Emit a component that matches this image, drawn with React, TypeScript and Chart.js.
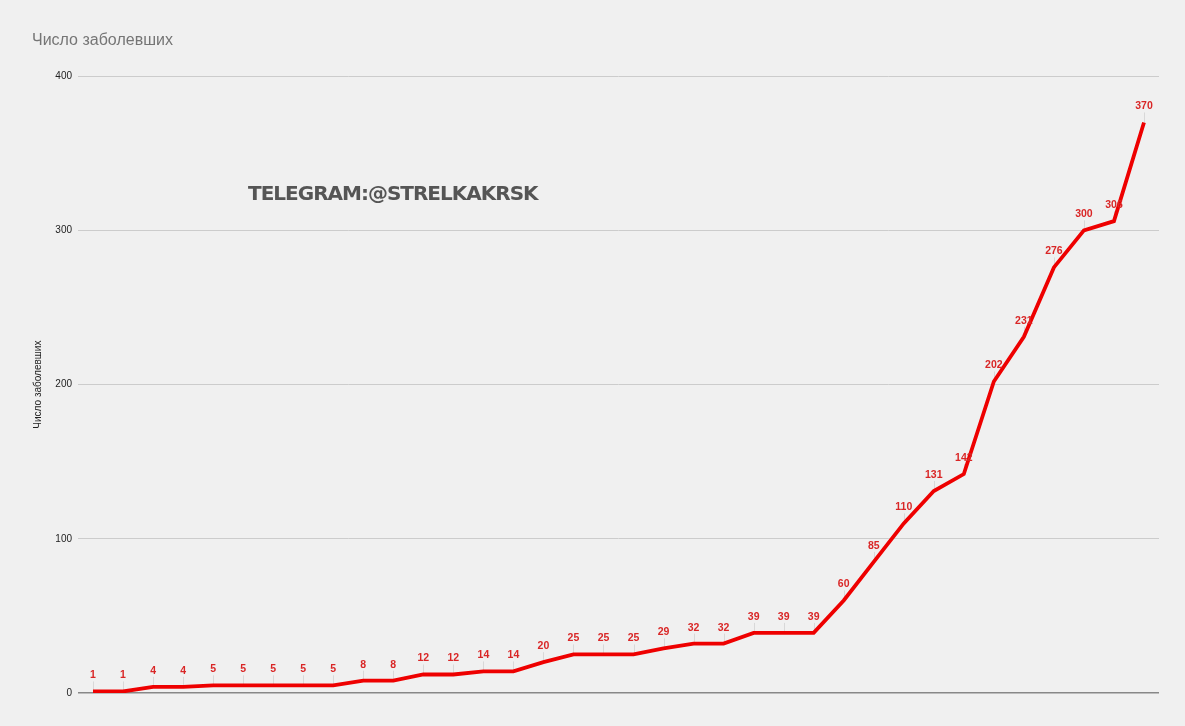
import React, { useEffect, useRef } from "react";
import { Chart, registerables } from "chart.js";

Chart.register(...registerables);

const categories: string[] = Array.from({ length: 36 }, (_, i) => `День ${i + 1}`);
const cases: number[] = [
  1, 1, 4, 4, 5, 5, 5, 5, 5, 8, 8, 12, 12, 14, 14, 20, 25, 25, 25, 29, 32, 32,
  39, 39, 39, 60, 85, 110, 131, 142, 202, 231, 276, 300, 306, 370,
];
const yTicks: number[] = [0, 100, 200, 300, 400];
const titleText = "Число заболевших";
const axisTitle = "Число заболевших";
const watermark = "TELEGRAM:@STRELKAKRSK";

const labelPlugin = {
  id: "pointLabels",
  beforeDatasetsDraw(chart: any) {
    const meta = chart.getDatasetMeta(0);
    const ctx = chart.ctx;
    ctx.save();
    ctx.strokeStyle = "#d8d8d8";
    ctx.lineWidth = 1;
    meta.data.forEach((pt: any) => {
      ctx.beginPath();
      ctx.moveTo(Math.round(pt.x) + 0.5, pt.y - 10);
      ctx.lineTo(Math.round(pt.x) + 0.5, pt.y);
      ctx.stroke();
    });
    ctx.restore();
  },
  afterDatasetsDraw(chart: any) {
    const meta = chart.getDatasetMeta(0);
    const ctx = chart.ctx;
    const data = chart.data.datasets[0].data;
    ctx.save();
    ctx.fillStyle = "#d92626";
    ctx.font = "bold 10.5px 'Liberation Sans', Arial, sans-serif";
    ctx.textAlign = "center";
    ctx.textBaseline = "middle";
    meta.data.forEach((pt: any, i: number) => {
      ctx.fillText(String(data[i]), pt.x, pt.y - 16);
    });
    ctx.restore();
  },
};

export default function App() {
  const ref = useRef<HTMLCanvasElement | null>(null);
  useEffect(() => {
    if (!ref.current) return;
    const chart = new Chart(ref.current, {
      type: "line",
      data: {
        labels: categories,
        datasets: [
          {
            data: cases,
            borderColor: "#ee0000",
            borderWidth: 3.8,
            pointRadius: 0,
            tension: 0,
            fill: false,
          },
        ],
      },
      options: {
        animation: false,
        responsive: false,
        layout: { padding: { left: 32, right: 26, top: 0, bottom: 33 } },
        plugins: {
          legend: { display: false },
          tooltip: { enabled: false },
          title: {
            display: true,
            text: titleText,
            align: "start",
            color: "#757575",
            font: { family: "'Liberation Sans', Arial, sans-serif", size: 16, weight: "normal" },
            padding: { top: 31, bottom: 26 },
          },
        },
        scales: {
          x: { display: false, offset: true },
          y: {
            min: 0,
            max: 400,
            afterFit: (s: any) => {
              s.width = 46;
            },
            afterBuildTicks: (s: any) => {
              s.ticks = yTicks.map((v) => ({ value: v }));
            },
            ticks: {
              color: "#222",
              padding: 6,
              font: { family: "'Liberation Sans', Arial, sans-serif", size: 10 },
            },
            grid: {
              drawTicks: false,
              color: (c: any) => (c.tick && c.tick.value === 0 ? "#888888" : "#cccccc"),
              lineWidth: (c: any) => (c.tick && c.tick.value === 0 ? 1.5 : 1),
            },
            border: { display: false },
            title: {
              display: true,
              text: axisTitle,
              color: "#222",
              font: { family: "'Liberation Sans', Arial, sans-serif", size: 10 },
              padding: { top: 0, bottom: 0 },
            },
          },
        },
      },
      plugins: [labelPlugin],
    });
    return () => chart.destroy();
  }, []);

  return (
    <div
      style={{
        position: "fixed",
        left: 0,
        top: 0,
        width: 1185,
        height: 726,
        background: "#f0f0f0",
      }}
    >
      <canvas ref={ref} width={1185} height={726} style={{ display: "block" }} />
      <div
        style={{
          position: "absolute",
          left: 248,
          top: 180,
          fontFamily: "'DejaVu Sans', sans-serif",
          fontWeight: "bold",
          fontSize: 20,
          letterSpacing: "-1px",
          lineHeight: "26px",
          color: "#555555",
          whiteSpace: "nowrap",
        }}
      >
        {watermark}
      </div>
    </div>
  );
}
